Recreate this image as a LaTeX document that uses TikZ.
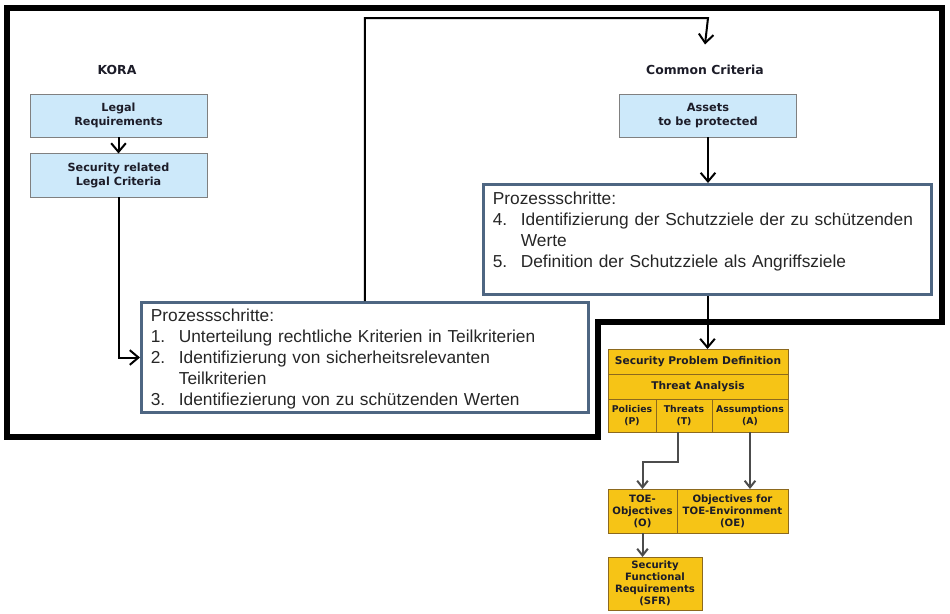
\documentclass[tikz,border=0pt]{standalone}
\usepackage{fontspec}
\setsansfont{DejaVu Sans}
\newfontfamily\arialfont{Liberation Sans}
\usetikzlibrary{arrows.meta,positioning}
\definecolor{legalblue}{RGB}{205,233,250}
\definecolor{stepframe}{RGB}{78,102,130}
\definecolor{spdyellow}{RGB}{246,196,22}
\definecolor{spdframe}{RGB}{140,105,30}
\definecolor{labeltext}{RGB}{28,28,40}
\newcommand{\stepline}[2]{\par\hangindent=21pt\hangafter=1\noindent\makebox[21pt][l]{#1}#2}

\begin{document}
\begin{tikzpicture}[
    x=0.75pt, y=-0.75pt,
    title/.style={font=\sffamily\bfseries\fontsize{9.3}{11}\selectfont, text=labeltext},
    legal/.style={draw=gray, fill=legalblue, align=center, inner sep=0pt,
      minimum width=132.75pt, minimum height=32.5pt, text=labeltext,
      font=\sffamily\bfseries\fontsize{8.4}{10}\selectfont},
    steps/.style={draw=stepframe, line width=2.25pt, align=left, anchor=north west,
      inner xsep=7pt, inner ysep=3pt, text=black!85,
      font=\arialfont\fontsize{13}{15.75}\selectfont},
    ycell/.style={draw=spdframe, fill=spdyellow, align=center, inner sep=0pt, outer sep=0pt,
      text=labeltext, font=\sffamily\bfseries\fontsize{8}{9}\selectfont},
    subcell/.style={ycell, anchor=north west, font=\sffamily\bfseries\fontsize{7}{8.5}\selectfont},
    frame/.style={line width=4.5pt, line join=miter},
    arrow/.style={-{Straight Barb[length=6.5pt,width=11pt]}, line width=1.5pt},
    yarrow/.style={-{Straight Barb[length=5pt,width=8pt]}, line width=1.5pt, draw=black!70}
  ]
    \useasboundingbox (0,0) rectangle (950,614);
    \draw[frame] (7,8) -- (942,8) -- (942,322) -- (598,322) -- (598,437) -- (7,437) -- cycle;

    % KORA side
    \node[title] (kora) at (117,70) {KORA};
    \node[legal] (legal) at (118.5,115.5) {Legal\\Requirements};
    \node[legal, below=12pt of legal] (secleg) {Security related\\Legal Criteria};
    \node[steps, text width=321pt, text height=11.25pt, text depth=65.25pt] (steps1) at (140,301) {%
      \noindent Prozessschritte:
      \stepline{1.}{Unterteilung rechtliche Kriterien in Teilkriterien}
      \stepline{2.}{Identifizierung von sicherheitsrelevanten\break Teilkriterien}
      \stepline{3.}{Identifiezierung von zu schützenden Werten}};

    % Common Criteria side
    \node[title] (cc) at (705,70) {Common Criteria};
    \node[legal, font=\sffamily\bfseries\fontsize{8.5}{10}\selectfont] (assets) at (708,115.5) {Assets\\to be protected};
    \node[steps, text width=322pt, text height=12pt, text depth=64.5pt] (steps2) at (482,183) {%
      \noindent Prozessschritte:
      \stepline{4.}{Identifizierung der Schutzziele der zu schützenden\break Werte}
      \stepline{5.}{Definition der Schutzziele als Angriffsziele}};

    % security problem definition
    \node[ycell, minimum width=135pt, minimum height=18.75pt] (spd) at (698,361.5) {Security Problem Definition};
    \node[ycell, minimum width=135pt, minimum height=18.75pt, below=0pt of spd] (threat) {Threat Analysis};
    \node[subcell, minimum width=36pt, minimum height=24.75pt] (pol) at (threat.south west) {Policies\\(P)};
    \node[subcell, minimum width=42pt, minimum height=24.75pt] (thr) at (pol.north east) {Threats\\(T)};
    \node[subcell, minimum width=57pt, minimum height=24.75pt] (ass) at (thr.north east) {Assumptions\\(A)};
    \node[subcell, font=\sffamily\bfseries\fontsize{7.6}{9}\selectfont, minimum width=51.75pt, minimum height=33pt] (toeo) at (608,489) {TOE-\\Objectives\\(O)};
    \node[subcell, font=\sffamily\bfseries\fontsize{7.6}{9}\selectfont, minimum width=83.25pt, minimum height=33pt] (toeoe) at (toeo.north east) {Objectives for\\TOE-Environment\\(OE)};
    \node[subcell, font=\sffamily\bfseries\fontsize{7.6}{9}\selectfont, minimum width=70.5pt, minimum height=39.75pt,
      below=18pt of toeo.south west, anchor=north west] (sfr) {Security\\Functional\\Requirements\\(SFR)};

    \draw[arrow] (legal) -- (secleg);
    \draw[arrow] (secleg.south) |- (steps1.west);
    \draw[arrow] (steps1.north) |- (708,18) -- ([yshift=12pt]cc.north);
    \draw[arrow] (assets.south) -- (assets.south |- steps2.north);
    \draw[arrow] (steps2.south) -- (steps2.south |- spd.north);
    \draw[yarrow] ([xshift=-4.5pt]thr.south) -- ++(0,30) -| (toeo.north);
    \draw[yarrow] (ass.south) -- (ass.south |- toeoe.north);
    \draw[yarrow] (toeo.south) -- (toeo.south |- sfr.north);
  \end{tikzpicture}
\end{document}
